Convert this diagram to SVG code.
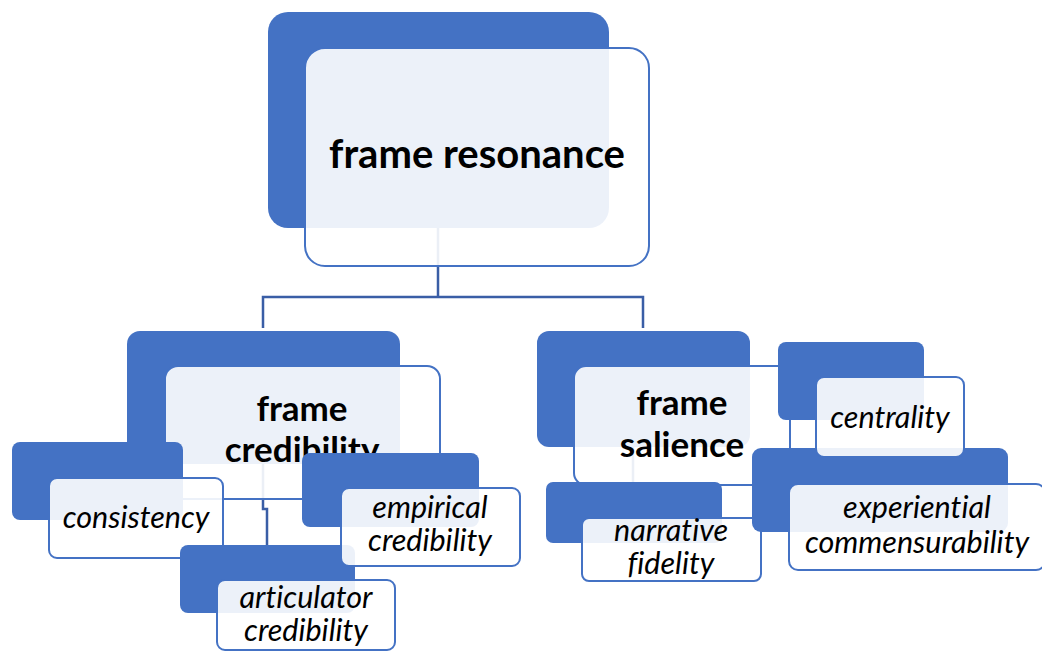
<svg xmlns="http://www.w3.org/2000/svg" width="1042" height="651" viewBox="0 0 1042 651">
  <style>
    .bk { fill: #4472C4; }
    .fr { fill: #ffffff; fill-opacity: 0.9; stroke: #4472C4; stroke-width: 2; }
    .conn { fill: none; stroke: #3A5EA6; stroke-width: 2.5; }
    text { fill: #000000; text-anchor: middle; font-family: Lato, "Liberation Sans", sans-serif; font-variant-ligatures: none; }
    .t1 { font-weight: bold; font-size: 40px; }
    .t2 { font-weight: bold; font-size: 35px; }
    .t3 { font-style: italic; font-size: 30.5px; }
  </style>
  <rect width="1042" height="651" fill="#ffffff"/>

  <!-- connectors, drawn beneath the boxes -->
  <g id="connectors">
    <path class="conn" d="M438,228 V297"/>
    <path class="conn" d="M263,328 V297 H643 V328"/>
    <path class="conn" d="M263,463 V509 H267 V545"/>
    <path class="conn" d="M633,447 V482"/>
  </g>

  <g id="frame-resonance">
    <rect class="bk" x="268" y="12" width="341" height="216" rx="20"/>
    <rect class="fr" x="305" y="48" width="344" height="218" rx="20"/>
    <text class="t1" x="477" y="168">frame resonance</text>
  </g>

  <g id="frame-credibility">
    <rect class="bk" x="127" y="331" width="273" height="133" rx="13"/>
    <rect class="fr" x="165" y="366" width="275" height="133" rx="13"/>
    <text class="t2" x="302" y="421">frame</text>
    <text class="t2" x="302" y="462">credibility</text>
  </g>

  <g id="consistency">
    <rect class="bk" x="12" y="442" width="171" height="78" rx="8"/>
    <rect class="fr" x="49" y="478" width="174" height="80" rx="8"/>
    <text class="t3" x="136" y="528">consistency</text>
  </g>

  <g id="articulator-credibility">
    <rect class="bk" x="180" y="545" width="175" height="68" rx="8"/>
    <rect class="fr" x="217" y="580" width="178" height="70" rx="8"/>
    <text class="t3" x="306" y="608">articulator</text>
    <text class="t3" x="306" y="641">credibility</text>
  </g>

  <g id="empirical-credibility">
    <rect class="bk" x="302" y="453" width="177" height="74" rx="8"/>
    <rect class="fr" x="341" y="488" width="179" height="78" rx="8"/>
    <text class="t3" x="430" y="518">empirical</text>
    <text class="t3" x="430" y="551">credibility</text>
  </g>

  <g id="frame-salience">
    <rect class="bk" x="537" y="331" width="213" height="116" rx="12"/>
    <rect class="fr" x="574" y="366" width="216" height="119" rx="12"/>
    <text class="t2" x="682" y="415">frame</text>
    <text class="t2" x="682" y="457">salience</text>
  </g>

  <g id="narrative-fidelity">
    <rect class="bk" x="546" y="482" width="176" height="61" rx="7"/>
    <rect class="fr" x="582" y="518" width="179" height="63" rx="7"/>
    <text class="t3" x="671" y="541">narrative</text>
    <text class="t3" x="671" y="574">fidelity</text>
  </g>

  <g id="experiential-commensurability">
    <rect class="bk" x="752" y="448" width="256" height="84" rx="9"/>
    <rect class="fr" x="789" y="484" width="256" height="86" rx="9"/>
    <text class="t3" x="917" y="518">experiential</text>
    <text class="t3" x="917" y="553">commensurability</text>
  </g>

  <g id="centrality">
    <rect class="bk" x="778" y="342" width="146" height="78" rx="8"/>
    <rect class="fr" x="816" y="377" width="148" height="80" rx="8"/>
    <text class="t3" x="890" y="428">centrality</text>
  </g>
</svg>
